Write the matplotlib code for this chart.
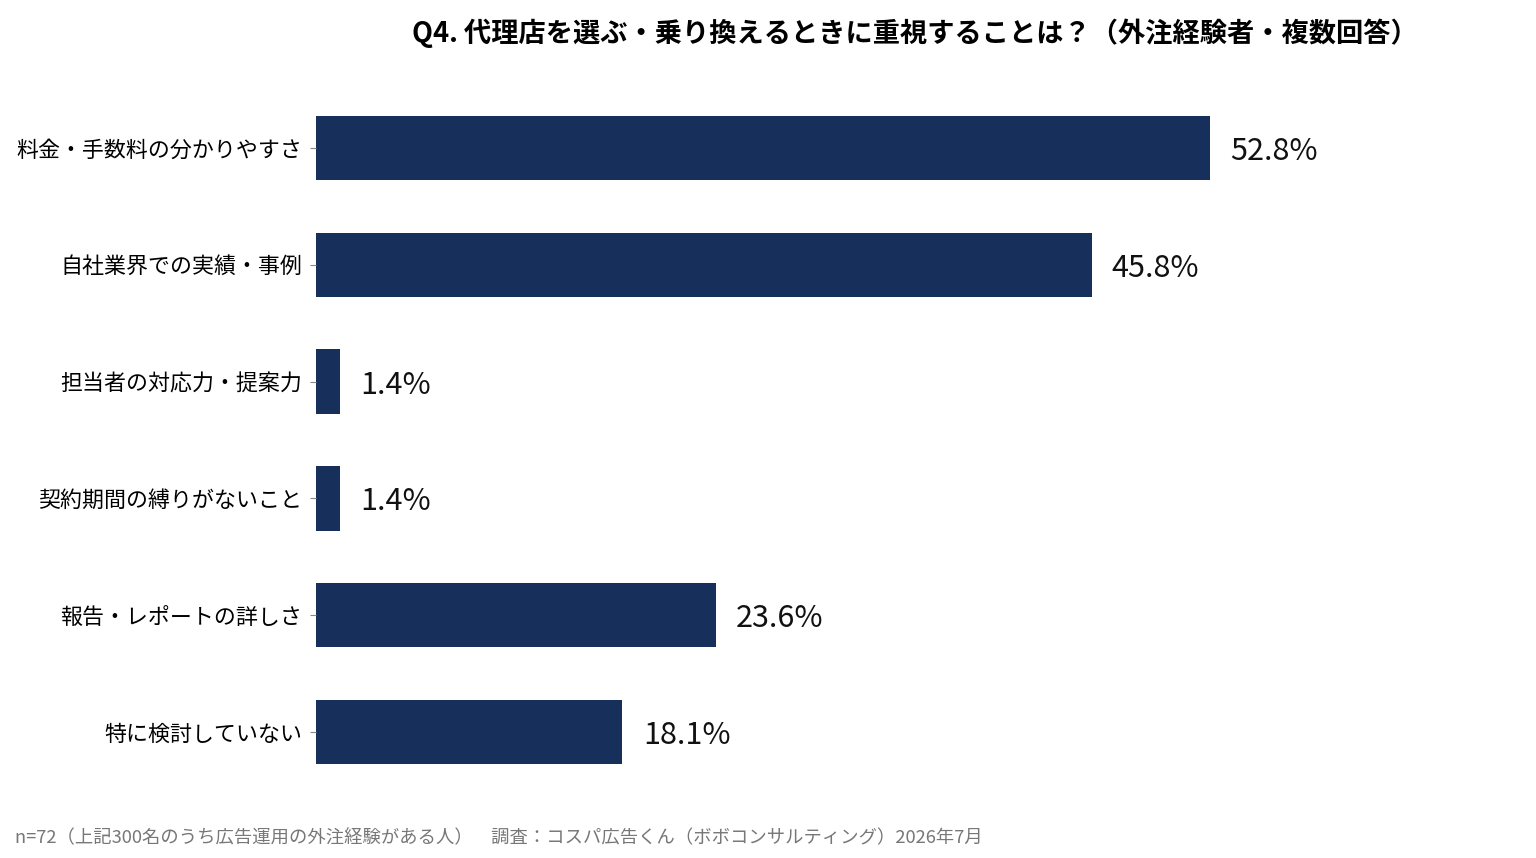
import matplotlib
matplotlib.use('Agg')
import matplotlib.pyplot as plt

plt.rcParams['font.family'] = ['Noto Sans CJK JP', 'DejaVu Sans']

categories = ['料金・手数料の分かりやすさ', '自社業界での実績・事例', '担当者の対応力・提案力',
              '契約期間の縛りがないこと', '報告・レポートの詳しさ', '特に検討していない']
values = [52.8, 45.8, 1.4, 1.4, 23.6, 18.1]

title = 'Q4. 代理店を選ぶ・乗り換えるときに重視することは？（外注経験者・複数回答）'
note = 'n=72（上記300名のうち広告運用の外注経験がある人）　調査：コスパ広告くん（ボボコンサルティング）2026年7月'

fig = plt.figure(figsize=(15.36, 8.58), dpi=100)
ax = fig.add_axes([316/1536, 1 - 790.4/858, 1016/1536, (790.4 - 89.6)/858])

y = list(range(len(categories)))
ax.barh(y, values, height=0.55, color='#17305b')
ax.set_ylim(len(categories) - 0.5, -0.5)
ax.set_xlim(0, 60)
ax.set_yticks(y)
ax.set_yticklabels(categories, fontsize=15.8)
ax.tick_params(axis='y', length=4, width=0.8, color='#888888', pad=6)
ax.set_xticks([])
for s in ax.spines.values():
    s.set_visible(False)

for yi, v in zip(y, values):
    ax.text(v + 1.2, yi + 0.03, f'{v:.1f}%', va='center', ha='left', fontsize=22, color='#111111')

fig.text(915/1536, 1 - 33/858, title, ha='center', va='center', fontsize=19.6, fontweight='bold')
fig.text(15/1536, 1 - 838/858, note, ha='left', va='center', fontsize=13.2, color='#777777')

fig.savefig('out.png', dpi=100)
